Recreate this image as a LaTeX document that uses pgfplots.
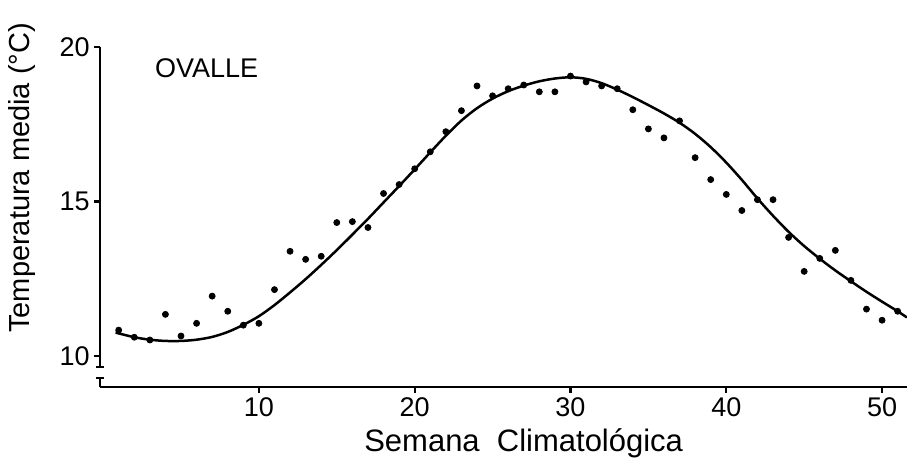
\documentclass[border=0pt]{standalone}
\usepackage{pgfplots}
\pgfplotsset{compat=1.18}
\usepackage{fontspec}
\setmainfont{Liberation Sans}
\begin{document}
\begin{tikzpicture}
\begin{axis}[
  scale only axis,
  width=403.5pt, height=170pt,
  xmin=-0.2, xmax=51.6, ymin=9.0, ymax=20,
  axis lines*=left,
  y axis line style={draw=none},
  x axis line style={line width=1.2pt},
  xtick={10,20,30,40,50},
  ytick={10,15,20},
  tick align=outside,
  major tick length=3pt,
  tick style={line width=1.1pt, black},
  /pgf/number format/assume math mode=true,
  ticklabel style={font=\fontsize{13.5}{16}\selectfont},
  yticklabel style={anchor=east, inner sep=0pt, xshift=-2pt},
  xticklabel style={anchor=north, inner sep=0pt, yshift=-2pt},
  xlabel={Semana\ \ Climatológica},
  xlabel style={font=\fontsize{15.5}{18}\selectfont, at={(axis description cs:0.525,-0.165)}, anchor=center},
  ylabel={Temperatura media (°C)},
  ylabel style={font=\fontsize{14.5}{17}\selectfont, at={(axis description cs:-0.0967,0.615)}, anchor=center, rotate=0},
  clip=false,
]
% y axis with break
\draw[line width=1.2pt] (axis cs:-0.2,20) -- (axis cs:-0.2,9.65);
\draw[line width=1.1pt] (axis cs:-0.45,9.65) -- (axis cs:0.05,9.65);
\draw[line width=1.1pt] (axis cs:-0.45,9.29) -- (axis cs:0.05,9.29);
\draw[line width=1.2pt] (axis cs:-0.2,9.29) -- (axis cs:-0.2,9.0);
\node[anchor=west, font=\fontsize{13.5}{16}\selectfont] at (axis description cs:0.0595,0.938) {OVALLE};
\addplot[only marks, mark=*, mark size=1.5pt, black] coordinates {
(1,10.84) (2,10.61) (3,10.52) (4,11.35) (5,10.65) (6,11.06) (7,11.94) (8,11.45) (9,11.00) (10,11.06)
(11,12.15) (12,13.39) (13,13.13) (14,13.23) (15,14.32) (16,14.35) (17,14.16) (18,15.26) (19,15.55) (20,16.06)
(21,16.61) (22,17.26) (23,17.94) (24,18.74) (25,18.42) (26,18.65) (27,18.77) (28,18.55) (29,18.55) (30,19.06)
(31,18.87) (32,18.74) (33,18.65) (34,17.97) (35,17.35) (36,17.06) (37,17.61) (38,16.42) (39,15.71) (40,15.23)
(41,14.71) (42,15.06) (43,15.06) (44,13.84) (45,12.74) (46,13.16) (47,13.42) (48,12.45) (49,11.52) (50,11.16)
(51,11.45)
};
\addplot[black, line width=1.25pt, smooth, no marks] coordinates {
(0.8,10.76) (2,10.61) (3,10.53) (4,10.49) (5,10.49) (6,10.53) (7,10.62) (8,10.78) (9,11.01) (10,11.29)
(11,11.65) (12,12.06) (13,12.49) (14,12.95) (15,13.43) (16,13.93) (17,14.44) (18,14.97) (19,15.50) (20,16.04)
(21,16.59) (22,17.13) (23,17.62) (24,18.02) (25,18.33) (26,18.57) (27,18.75) (28,18.89) (29,18.98) (30,19.02)
(31,18.97) (32,18.83) (33,18.62) (34,18.38) (35,18.12) (36,17.85) (37,17.55) (38,17.19) (39,16.76) (40,16.26)
(41,15.70) (42,15.10) (43,14.54) (44,14.02) (45,13.56) (46,13.15) (47,12.77) (48,12.42) (49,12.08) (50,11.76)
(51,11.45) (51.6,11.25)
};
\end{axis}
\pgfresetboundingbox
\useasboundingbox (-50pt,-36pt) rectangle (403.5pt,193.5pt);
\end{tikzpicture}
\end{document}
